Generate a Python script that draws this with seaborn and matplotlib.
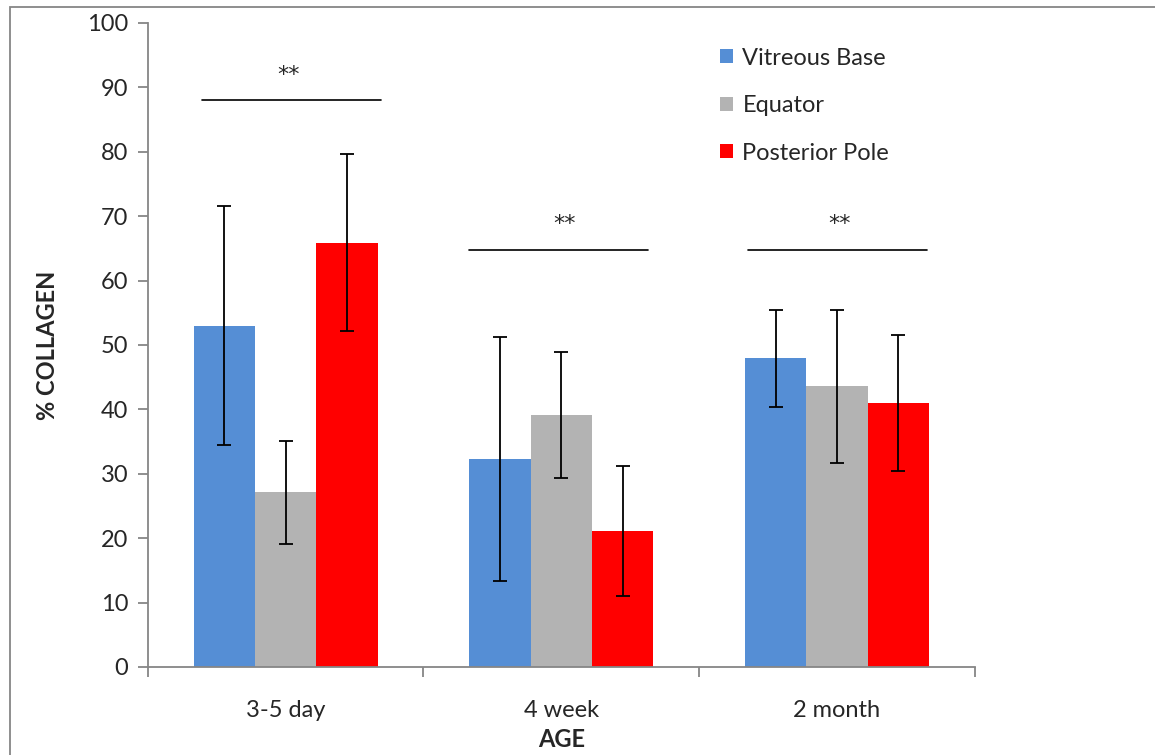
import numpy as np
import pandas as pd
import matplotlib
matplotlib.use("Agg")
import matplotlib.pyplot as plt
import seaborn as sns
from matplotlib.patches import Patch, Rectangle

# Data
ages = ["3-5 day", "4 week", "2 month"]
regions = ["Vitreous Base", "Equator", "Posterior Pole"]
vitreous_base = [53.0, 32.3, 47.9]
equator = [27.1, 39.1, 43.6]
posterior_pole = [65.9, 21.1, 41.0]
vitreous_err = [18.6, 19.0, 7.5]
equator_err = [8.0, 9.8, 11.9]
posterior_err = [13.7, 10.1, 10.6]
sig_height = [88, 64.8, 64.8]
sig_start = [-0.305, -0.335, -0.323]
sig_end = [0.345, 0.314, 0.327]
sig_label = ["**", "**", "**"]

colors = ["#558ED5", "#B3B3B3", "#FF0000"]

df = pd.DataFrame({
    "Age": ages * 3,
    "Region": np.repeat(regions, 3),
    "Collagen": vitreous_base + equator + posterior_pole,
    "Err": vitreous_err + equator_err + posterior_err,
})

sns.set_style("white")
plt.rcParams["font.family"] = ["Lato", "DejaVu Sans"]

fig = plt.figure(figsize=(11.55, 7.55), dpi=100)
ax = fig.add_axes([0.128, 0.1166, 0.716, 0.853])

sns.barplot(data=df, x="Age", y="Collagen", hue="Region", order=ages,
            hue_order=regions, palette=colors, width=0.667, gap=0,
            errorbar=None, saturation=1, legend=False, ax=ax,
            edgecolor="none", linewidth=0)

# error bars centered on each bar
for cont, reg in zip(ax.containers, regions):
    sub = df[df["Region"] == reg].set_index("Age").loc[ages]
    xs = [p.get_x() + p.get_width() / 2 for p in cont.patches]
    ax.errorbar(xs, sub["Collagen"], yerr=sub["Err"], fmt="none",
                ecolor="black", elinewidth=1.3, capsize=4.8, capthick=1.3,
                zorder=5)

# significance bars
for i, h in enumerate(sig_height):
    ax.plot([i + sig_start[i], i + sig_end[i]], [h, h], color="black", lw=1.2)
    ax.text(i + 0.01, h + 2.4, sig_label[i], ha="center", va="bottom",
            fontsize=16, family="DejaVu Sans")

ax.set_ylim(0, 100)
ax.set_xlim(-0.5, 2.5)
ax.set_yticks(range(0, 101, 10))
ax.tick_params(axis="y", labelsize=17, length=7, color="#868686",
               direction="out", left=True, width=1.3, pad=7)
ax.set_xticks([-0.5, 0.5, 1.5, 2.5], minor=True)
ax.tick_params(axis="x", which="major", length=0, labelsize=17, pad=24)
ax.tick_params(axis="x", which="minor", length=7, color="#868686",
               direction="out", bottom=True, width=1.3)
for side in ["top", "right"]:
    ax.spines[side].set_visible(False)
for side in ["left", "bottom"]:
    ax.spines[side].set_color("#868686")
    ax.spines[side].set_linewidth(1.3)

ax.set_xlabel("AGE", fontsize=17, fontweight="bold", labelpad=5)
ax.set_ylabel("% COLLAGEN", fontsize=17, fontweight="bold", labelpad=20)

handles = [Patch(facecolor=c, edgecolor="none") for c in colors]
ax.legend(handles, regions, loc="upper left",
          bbox_to_anchor=(0.605, 0.965), bbox_transform=fig.transFigure,
          frameon=False, fontsize=17, handlelength=0.55, handleheight=0.55,
          handletextpad=0.4, labelspacing=1.12)

# outer chart border
fig.patches.append(Rectangle((10 / 1155, -0.5), 2, 0.5 + (1 - 7 / 755),
                             transform=fig.transFigure, fill=False,
                             edgecolor="#868686", lw=1.3))

fig.savefig("out.png", dpi=100, facecolor="white")
